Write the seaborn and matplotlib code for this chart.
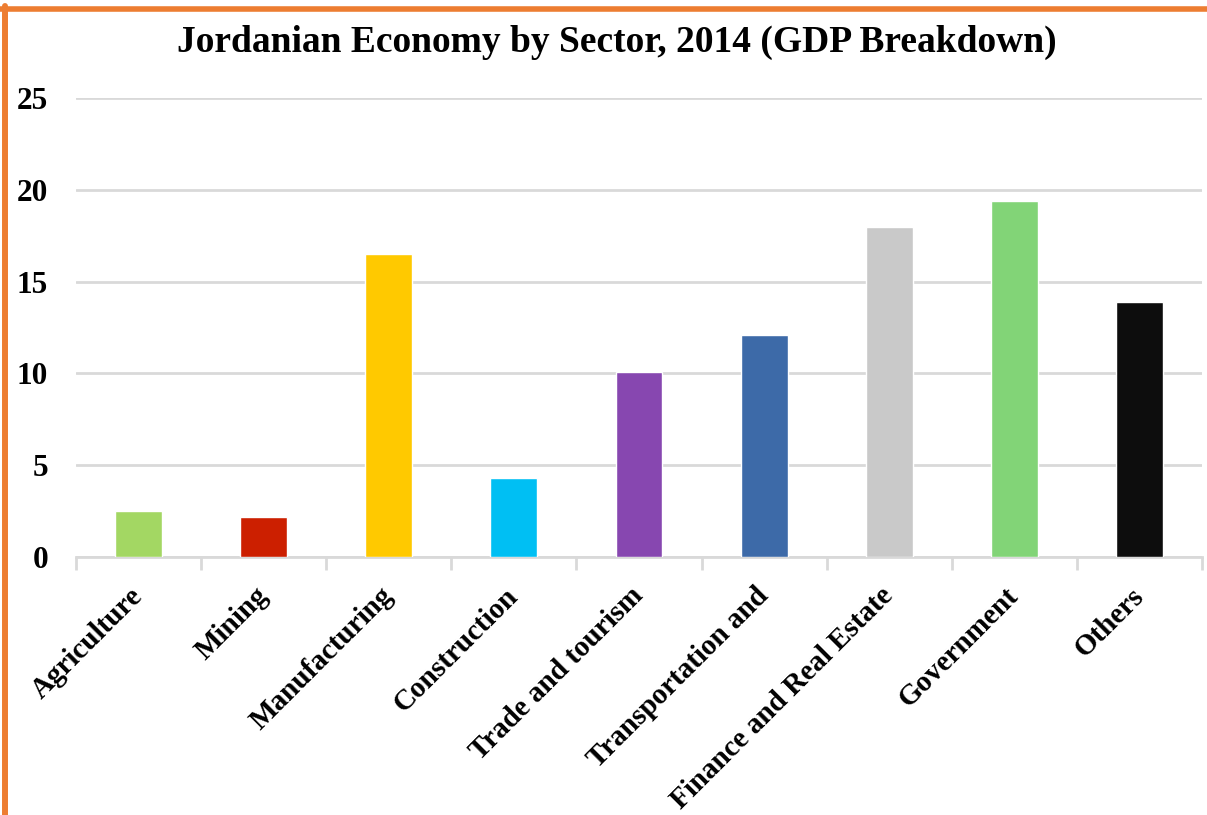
import matplotlib
matplotlib.use("Agg")
import matplotlib.pyplot as plt
import seaborn as sns
import pandas as pd
from matplotlib.lines import Line2D

sectors = ["Agriculture", "Mining", "Manufacturing", "Construction", "Trade and tourism",
           "Transportation and", "Finance and Real Estate", "Government", "Others"]
values = [2.5, 2.2, 16.5, 4.3, 10.1, 12.1, 18.0, 19.4, 13.9]
colors = ["#A3D763", "#CC1F00", "#FFC900", "#00BFF3", "#8747B0",
          "#3D6AA8", "#C9C9C9", "#82D477", "#0D0D0D"]
yticks = [0, 5, 10, 15, 20, 25]
title = "Jordanian Economy by Sector, 2014 (GDP Breakdown)"

sns.set_theme(style="white")
plt.rcParams["font.family"] = ["Liberation Serif", "DejaVu Serif"]
plt.rcParams["text.color"] = "black"
plt.rcParams["xtick.color"] = "black"
plt.rcParams["ytick.color"] = "black"

df = pd.DataFrame({"sector": sectors, "value": values})

fig = plt.figure(figsize=(12.07, 8.15), dpi=100)
ax = fig.add_axes([76 / 1207, (815 - 557) / 815, (1202 - 76) / 1207, (557 - 98) / 815])

sns.barplot(data=df, x="sector", y="value", hue="sector", palette=colors,
            width=0.375, legend=False, ax=ax, saturation=1, zorder=3)

ax.set_ylim(0, 25)
ax.set_xlim(-0.5, len(sectors) - 0.5)
ax.set_yticks(yticks)
ax.set_yticklabels([str(v) for v in yticks], fontsize=22.5, fontweight="bold", color="black")
ax.yaxis.grid(True, color="#D9D9D9", linewidth=2, zorder=0)
ax.set_axisbelow(True)
ax.tick_params(axis="y", length=0, pad=20)
for s in ["top", "right", "left"]:
    ax.spines[s].set_visible(False)
ax.spines["bottom"].set_color("#D9D9D9")
ax.spines["bottom"].set_linewidth(2)

ax.set_xticks([i - 0.5 for i in range(len(sectors) + 1)], minor=True)
ax.tick_params(axis="x", which="minor", length=9, width=2, color="#D9D9D9", direction="out", bottom=True)
ax.tick_params(axis="x", which="major", length=0, pad=25)
ax.set_xticklabels(sectors, rotation=45, ha="right", va="center", rotation_mode="anchor",
                   fontsize=21, fontweight="bold", color="black")
ax.set_xlabel("")
ax.set_ylabel("")

fig.text(617 / 1207, 1 - 42 / 815, title, ha="center", va="center",
         fontsize=27, fontweight="bold", color="black")

orange = "#ED7D31"
fig.add_artist(Line2D([0, 1], [1 - 8.5 / 815, 1 - 8.5 / 815], color=orange, linewidth=4,
                      transform=fig.transFigure))
fig.add_artist(Line2D([5 / 1207, 5 / 1207], [0, 1 - 6 / 815], color=orange, linewidth=4.3,
                      transform=fig.transFigure))

fig.savefig("out.png", dpi=100)
